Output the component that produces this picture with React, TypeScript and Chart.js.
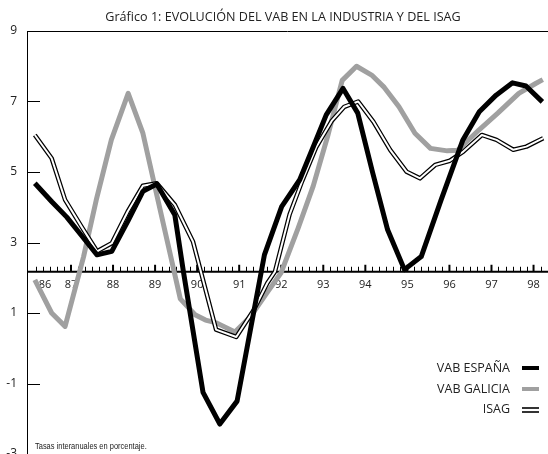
import React, { useEffect, useRef } from "react";
import { Chart, registerables } from "chart.js";

Chart.register(...registerables);

// ---- Data ----
const TITLE = "Gráfico 1: EVOLUCIÓN DEL VAB EN LA INDUSTRIA Y DEL ISAG";
const NOTE = "Tasas interanuales en porcentaje.";
const YEAR_LABELS = ["86", "87", "88", "89", "90", "91", "92", "93", "94", "95", "96", "97", "98"];
const Y_TICKS = [-3, -1, 1, 3, 5, 7, 9];
const X_MIN = 85.954;
const X_MAX = 98.344;
const AXIS_CROSS = 2.17;

const espanaX = [86.14, 86.55, 86.9, 87.25, 87.62, 87.97, 88.35, 88.71, 89.04, 89.47, 89.67, 90.14, 90.54, 90.95, 91.6, 92.01, 92.44, 92.76, 93.07, 93.47, 93.82, 94.17, 94.53, 94.93, 95.33, 95.8, 96.32, 96.71, 97.11, 97.5, 97.82, 98.21];
const espanaY = [4.68, 4.15, 3.72, 3.2, 2.65, 2.75, 3.6, 4.45, 4.66, 3.78, 2.2, -1.25, -2.15, -1.5, 2.65, 4.02, 4.78, 5.71, 6.62, 7.37, 6.67, 5.0, 3.36, 2.23, 2.6, 4.2, 5.91, 6.71, 7.18, 7.53, 7.44, 6.99];

const galiciaX = [86.14, 86.54, 86.86, 87.3, 87.6, 87.96, 88.36, 88.71, 89.05, 89.39, 89.6, 89.95, 90.2, 90.46, 90.9, 91.27, 91.66, 92.0, 92.4, 92.76, 93.1, 93.45, 93.79, 94.15, 94.45, 94.8, 95.18, 95.55, 95.95, 96.2, 96.7, 97.15, 97.65, 98.05, 98.22];
const galiciaY = [1.94, 1.0, 0.62, 2.6, 4.2, 5.91, 7.23, 6.1, 4.3, 2.51, 1.4, 0.95, 0.8, 0.72, 0.46, 0.9, 1.57, 2.15, 3.4, 4.6, 6.0, 7.6, 8.0, 7.75, 7.4, 6.85, 6.1, 5.67, 5.6, 5.62, 6.19, 6.67, 7.23, 7.51, 7.62];

const isagX = [86.14, 86.54, 86.86, 87.25, 87.62, 87.97, 88.35, 88.71, 89.04, 89.47, 89.9, 90.45, 90.93, 91.35, 91.67, 91.85, 92.2, 92.5, 92.83, 93.2, 93.5, 93.83, 94.19, 94.59, 94.98, 95.3, 95.66, 96.01, 96.33, 96.77, 97.12, 97.52, 97.83, 98.23];
const isagY = [6.05, 5.39, 4.21, 3.45, 2.75, 2.98, 3.88, 4.61, 4.68, 4.07, 3.03, 0.53, 0.32, 1.09, 1.85, 2.17, 3.8, 4.75, 5.7, 6.45, 6.85, 7.0, 6.43, 5.63, 5.01, 4.82, 5.2, 5.32, 5.58, 6.05, 5.91, 5.63, 5.72, 5.96];

const SERIES_NAMES = ["VAB ESPAÑA", "VAB GALICIA", "ISAG"];

const toPoints = (xs: number[], ys: number[]) => xs.map((x, i) => ({ x, y: ys[i] }));

const FONT = "'Open Sans', 'Liberation Sans', Arial, sans-serif";

const axesPlugin = {
  id: "customAxes",
  beforeDatasetsDraw(chart: any) {
    const { ctx, chartArea, scales } = chart;
    const xs = scales.x;
    const ys = scales.y;
    const { left, right, top } = chartArea;
    ctx.save();
    ctx.strokeStyle = "#000";
    ctx.lineWidth = 1;
    ctx.beginPath();
    ctx.moveTo(left, Math.round(top) + 0.5);
    ctx.lineTo(right, Math.round(top) + 0.5);
    ctx.stroke();
    Y_TICKS.forEach((v) => {
      const y = Math.round(ys.getPixelForValue(v)) + 0.5;
      ctx.beginPath();
      ctx.moveTo(left, y);
      ctx.lineTo(left + 13, y);
      ctx.stroke();
    });
    const y0 = ys.getPixelForValue(AXIS_CROSS);
    ctx.lineWidth = 2;
    ctx.beginPath();
    ctx.moveTo(left, y0);
    ctx.lineTo(right, y0);
    ctx.stroke();
    YEAR_LABELS.forEach((lab) => {
      const yr = Number(lab);
      for (let k = 0; k < 6; k++) {
        const v = yr + k / 6;
        if (v <= X_MIN + 0.05 || v >= X_MAX) continue;
        const x = xs.getPixelForValue(v);
        ctx.lineWidth = k === 0 ? 2 : 1;
        const h = k === 0 ? 7 : 5;
        const px = k === 0 ? x : Math.round(x) + 0.5;
        ctx.beginPath();
        ctx.moveTo(px, y0);
        ctx.lineTo(px, y0 - h);
        ctx.stroke();
      }
    });
    ctx.fillStyle = "#222";
    ctx.font = "11px " + FONT;
    ctx.textAlign = "center";
    ctx.textBaseline = "middle";
    YEAR_LABELS.forEach((lab, i) => {
      let x = xs.getPixelForValue(Number(lab));
      if (i === 0) x += 16;
      ctx.fillText(lab, x, y0 + 13);
    });
    ctx.restore();
  },
};

export default function App() {
  const ref = useRef<HTMLCanvasElement | null>(null);
  useEffect(() => {
    if (!ref.current) return;
    const chart = new Chart(ref.current, {
      type: "line",
      data: {
        datasets: [
          {
            label: SERIES_NAMES[0],
            data: toPoints(espanaX, espanaY),
            borderColor: "#000",
            borderWidth: 5,
            pointRadius: 0,
            fill: false,
            tension: 0,
            order: 0,
            borderJoinStyle: "round",
          },
          {
            label: SERIES_NAMES[2] + " inner",
            data: toPoints(isagX, isagY),
            borderColor: "#fff",
            borderWidth: 2,
            pointRadius: 0,
            fill: false,
            tension: 0,
            order: 1,
            borderJoinStyle: "round",
          },
          {
            label: SERIES_NAMES[2],
            data: toPoints(isagX, isagY),
            borderColor: "#000",
            borderWidth: 4.5,
            pointRadius: 0,
            fill: false,
            tension: 0,
            order: 2,
            borderJoinStyle: "round",
          },
          {
            label: SERIES_NAMES[1],
            data: toPoints(galiciaX, galiciaY),
            borderColor: "#a0a0a0",
            borderWidth: 5,
            pointRadius: 0,
            fill: false,
            tension: 0,
            order: 3,
            borderJoinStyle: "round",
          },
        ],
      },
      options: {
        animation: false,
        responsive: false,
        maintainAspectRatio: false,
        layout: { padding: { top: 31, left: 0, right: 0, bottom: 0 } },
        plugins: {
          legend: { display: false },
          tooltip: { enabled: false },
          title: { display: false },
        },
        scales: {
          x: {
            type: "linear",
            min: X_MIN,
            max: X_MAX,
            display: false,
          },
          y: {
            type: "linear",
            min: -3,
            max: 9,
            afterBuildTicks: (scale: any) => {
              scale.ticks = Y_TICKS.map((v) => ({ value: v }));
            },
            afterFit: (scale: any) => {
              scale.width = 27;
              scale.paddingTop = 0;
              scale.paddingBottom = 0;
            },
            ticks: {
              color: "#222",
              font: { size: 12, family: FONT },
              padding: 10,
              callback: (v: any) => String(v),
            },
            grid: { drawOnChartArea: false, drawTicks: false },
            border: { color: "#000", width: 1 },
          },
        },
      },
      plugins: [axesPlugin],
    });
    return () => chart.destroy();
  }, []);

  const legendRows = [
    { name: SERIES_NAMES[0], top: 368, kind: "black" },
    { name: SERIES_NAMES[1], top: 389, kind: "gray" },
    { name: SERIES_NAMES[2], top: 409, kind: "double" },
  ];

  return (
    <div style={{ position: "absolute", left: 0, top: 0, width: 548, height: 454, background: "#fff", overflow: "hidden" }}>
      <canvas ref={ref} width={548} height={454} style={{ position: "absolute", left: 0, top: 0 }} />
      <div
        style={{
          position: "absolute",
          left: 18,
          width: 530,
          top: 9,
          textAlign: "center",
          fontFamily: FONT,
          fontSize: 12.6,
          lineHeight: "16px",
          color: "#222",
          whiteSpace: "nowrap",
        }}
      >
        {TITLE}
      </div>
      {legendRows.map((r) => (
        <div key={r.name}>
          <div
            style={{
              position: "absolute",
              right: 548 - 510,
              top: r.top - 8,
              height: 16,
              lineHeight: "16px",
              fontFamily: FONT,
              fontSize: 12.5,
              color: "#222",
              whiteSpace: "nowrap",
            }}
          >
            {r.name}
          </div>
          {r.kind === "double" ? (
            <>
              <div style={{ position: "absolute", left: 522, top: r.top - 2, width: 17, height: 1.5, background: "#333" }} />
              <div style={{ position: "absolute", left: 522, top: r.top + 2, width: 17, height: 1.5, background: "#333" }} />
            </>
          ) : (
            <div
              style={{
                position: "absolute",
                left: 522,
                top: r.top - 2,
                width: 17,
                height: 4,
                background: r.kind === "black" ? "#000" : "#a0a0a0",
              }}
            />
          )}
        </div>
      ))}
      <div
        style={{
          position: "absolute",
          left: 35,
          top: 440,
          fontFamily: "'Liberation Sans Narrow', 'Liberation Sans', Arial, sans-serif",
          fontSize: 9,
          lineHeight: "12px",
          color: "#222",
          whiteSpace: "nowrap",
          transform: "scaleX(0.83)",
          transformOrigin: "left center",
        }}
      >
        {NOTE}
      </div>
    </div>
  );
}
